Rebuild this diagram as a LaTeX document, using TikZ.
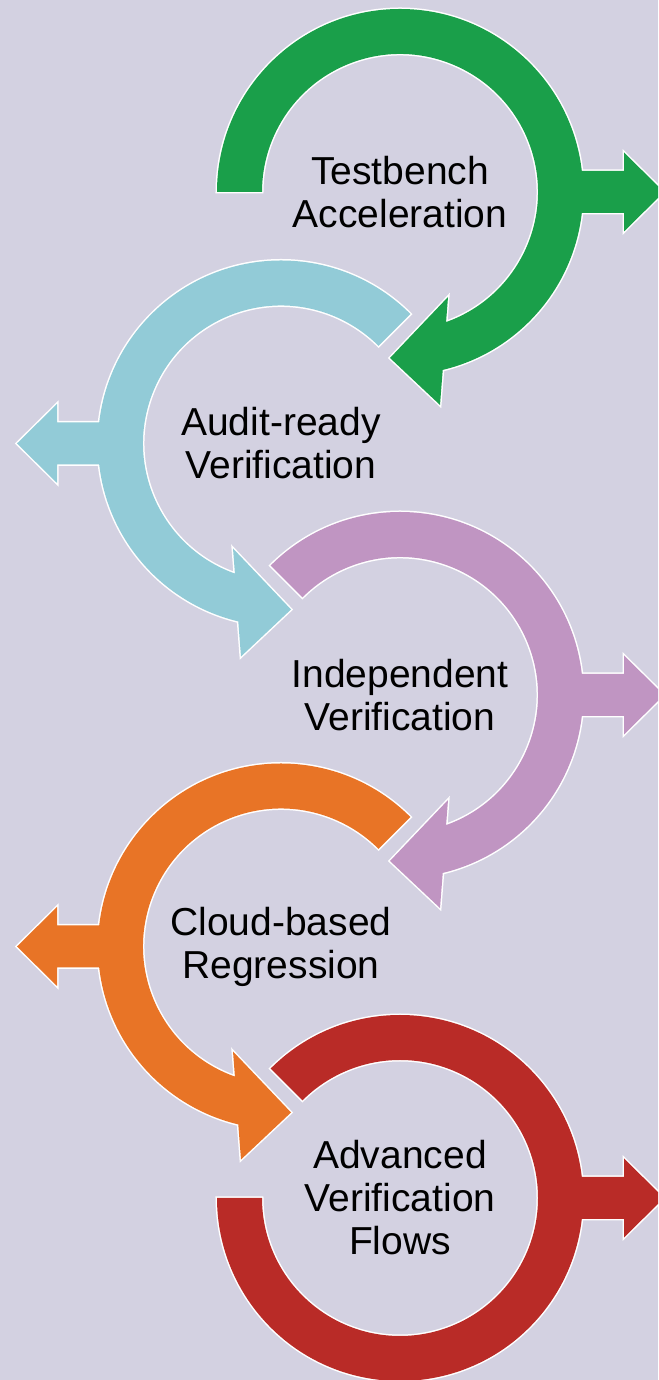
\documentclass[tikz,border=0pt]{standalone}
\usepackage{fontspec}
\setmainfont{Liberation Sans}
\newcommand\ringarrow[1]{(#1:183) arc[start angle=#1, end angle=-76.5, radius=183] -- (40,-213) -- (-10,-166) -- (48,-105) -- (-70.5:138) arc[start angle=-70.5, end angle=#1, radius=138] -- cycle}
\newcommand\ringlast{(135:183) arc[start angle=135, end angle=-180, radius=183] -- (-180:138) arc[start angle=-180, end angle=135, radius=138] -- cycle}
\newcommand\sidearrow{(160,21) -- (224,21) -- (224,39.5) -- (264,0) -- (224,-39.5) -- (224,-21) -- (160,-21) -- cycle}
\definecolor{bgc}{HTML}{D3D1E1}
\definecolor{cgreen}{HTML}{1A9F4A}
\definecolor{cblue}{HTML}{92CBD7}
\definecolor{cpurple}{HTML}{C095C2}
\definecolor{corange}{HTML}{E87426}
\definecolor{cred}{HTML}{B92B27}
\begin{document}
\begin{tikzpicture}[x=1pt,y=1pt,
  outl/.style={draw=white, line width=3pt, line join=miter},
  lbl/.style={align=center, font=\fontsize{39}{43}\selectfont, text=black, inner sep=0pt}]
\useasboundingbox (0,0) rectangle (658,1380);
\clip (0,0) rectangle (658,1380);
\fill[bgc] (0,0) rectangle (658,1380);
\coordinate (c1) at (400,1188);
\coordinate (c2) at (281,936.5);
\coordinate (c3) at (400,685);
\coordinate (c4) at (281,433.5);
\coordinate (c5) at (400,182);
% green
\begin{scope}[shift={(c1)}]
  \path[outl] \ringarrow{180}; \path[outl] \sidearrow;
  \fill[cgreen] \ringarrow{180}; \fill[cgreen] \sidearrow;
\end{scope}
% blue
\begin{scope}[shift={(c2)}, xscale=-1]
  \path[outl] \ringarrow{135}; \path[outl] \sidearrow;
  \fill[cblue] \ringarrow{135}; \fill[cblue] \sidearrow;
\end{scope}
% purple
\begin{scope}[shift={(c3)}]
  \path[outl] \ringarrow{135}; \path[outl] \sidearrow;
  \fill[cpurple] \ringarrow{135}; \fill[cpurple] \sidearrow;
\end{scope}
% orange
\begin{scope}[shift={(c4)}, xscale=-1]
  \path[outl] \ringarrow{135}; \path[outl] \sidearrow;
  \fill[corange] \ringarrow{135}; \fill[corange] \sidearrow;
\end{scope}
% red
\begin{scope}[shift={(c5)}]
  \path[outl] \ringlast; \path[outl] \sidearrow;
  \fill[cred] \ringlast; \fill[cred] \sidearrow;
\end{scope}
\node[lbl] (t1) at (c1) {Testbench\\Acceleration};
\node[lbl] (t2) at (c2) {Audit-ready\\Verification};
\node[lbl] (t3) at (c3) {Independent\\Verification};
\node[lbl] (t4) at (c4) {Cloud-based\\Regression};
\node[lbl] (t5) at (c5) {Advanced\\Verification\\Flows};
\end{tikzpicture}
\end{document}
